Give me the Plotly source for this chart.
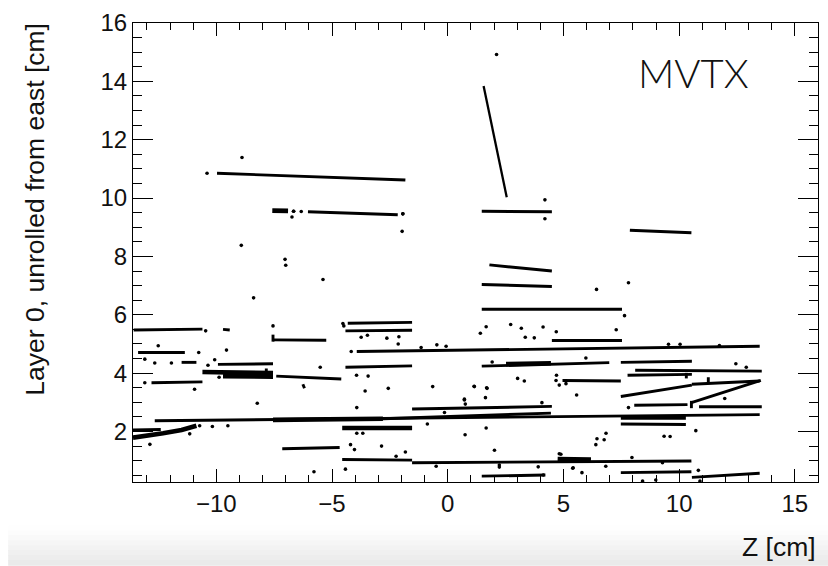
import plotly.graph_objects as go

# ---------------- data (z in cm, y in cm) ----------------
# regular track segments: start z, start y, end z, end y
seg_z0 = [-9.97, -6.04, 1.47, 7.87, 1.80, 1.47, 1.47, 4.50, -3.93, -4.32, -4.42, -4.42,
          -7.41, -6.26, -13.57, -9.71, -7.55, -7.55, -13.38, -11.50, -9.93, -7.84, -12.80,
          -12.66, -1.54, -2.80, 7.48, -13.60, -7.15, -4.56, -1.54, 1.47, 7.48, 10.55,
          1.47, 7.48, 8.10, 7.77, 10.31, 4.96, 7.48, 10.55, 11.26, 10.53, 10.53, 8.06, 10.86]
seg_y0 = [10.85, 9.53, 9.55, 8.90, 7.71, 7.04, 6.19, 5.12, 4.74, 5.71, 5.45, 4.20,
          3.90, 3.62, 5.48, 5.50, 5.14, 5.32, 4.71, 4.37, 4.30, 4.16, 3.67,
          2.37, 2.77, 2.44, 2.26, 2.05, 1.41, 1.04, 0.93, 0.47, 0.59, 0.43,
          4.24, 4.37, 4.10, 3.93, 4.01, 3.75, 3.20, 3.62, 3.86, 2.99, 3.05, 2.90, 2.85]
seg_z1 = [-1.83, -2.16, 4.50, 10.53, 4.50, 4.50, 7.53, 7.53, 13.48, -1.54, -1.54, -1.54,
          -4.60, -6.19, -10.60, -9.42, -5.25, -7.55, -11.36, -10.86, -7.55, -7.84, -10.60,
          13.48, 4.50, 4.46, 10.29, -12.40, -4.67, -1.54, 10.53, 4.22, 10.53, 13.48,
          6.98, 10.55, 13.57, 10.55, 10.31, 7.48, 10.55, 13.48, 11.26, 13.53, 10.53, 10.36, 13.57]
seg_y1 = [10.62, 9.43, 9.53, 8.81, 7.50, 6.97, 6.19, 5.12, 4.92, 5.74, 5.47, 4.25,
          3.80, 3.48, 5.51, 5.48, 5.13, 5.08, 4.71, 4.37, 4.32, 4.01, 3.70,
          2.58, 2.86, 2.63, 2.24, 2.07, 1.45, 1.02, 0.99, 0.51, 0.62, 0.57,
          4.36, 4.41, 4.07, 3.96, 3.82, 3.73, 3.59, 3.73, 3.67, 3.75, 2.80, 2.92, 2.85]

# dense (heavily populated) segments
thick_z0 = [-7.58, -10.60, -9.71, -7.55, 7.48, -4.56, 4.75, 2.52]
thick_y0 = [9.57, 4.04, 3.90, 2.40, 2.48, 2.12, 1.06, 4.31]
thick_z1 = [-6.90, -7.55, -7.55, -2.80, 10.29, -1.54, 6.19, 4.46]
thick_y1 = [9.56, 4.00, 3.88, 2.44, 2.48, 2.12, 1.04, 4.34]

# steep track in the upper region
steep_z = [1.55, 2.55]
steep_y = [13.84, 10.03]

# curved dense band at low z
curve_z = [-13.60, -12.90, -12.30, -11.50, -10.86]
curve_y = [1.79, 1.86, 1.94, 2.05, 2.20]

# isolated hits
dot_z = [-10.40, -8.89, -6.66, -6.33, -1.94, -1.97, -6.73, -8.92, -7.03, -7.00, -5.39, -8.39,
         2.11, 4.20, 4.20, 6.43, 7.81, 7.64, 1.66, 1.41, 2.72, 3.18, 3.35, 3.74, 4.12, 4.69, 7.28,
         -4.17, -1.15, -0.47, -0.07, -2.11, -2.14, -2.63, -3.74, -3.47, -4.53, -4.49, 9.54, 10.04, 11.74,
         -3.94, -3.44, -3.57, -2.57, -0.65, 1.14, -5.51, -10.46, -7.55, -12.51, -10.76, -9.56,
         -12.66, -11.94, -13.09, -10.36, -10.07, -9.88, -13.09, -10.94, 9.35, 10.72, -12.87, -11.15,
         -10.72, -10.17, -9.50, -8.23, -3.93, -3.67, -4.20, -4.03, -2.86, -1.83, -2.23, 4.89, 7.96,
         3.91, 5.42, 5.80, 6.83, -5.78, -4.42, -0.50, 10.83, 10.90, 1.92, 5.97, 4.70, 1.15, 0.72,
         0.76, 1.63, 4.07, 5.57, 7.81, 11.97, 9.61, -3.93, -0.88, 0.72, 0.75, 1.66, 2.02, 6.45,
         6.76, 6.40, 6.84, 2.23, 2.23, 4.13, 4.82, 5.40, 9.28, 8.42, 8.99, 12.45, 12.90, 3.02,
         3.31, 4.68, 4.82, 5.11, 1.70, 1.68, -0.14, -6.66, -1.94]
dot_y = [10.85, 11.39, 9.55, 9.54, 9.46, 8.86, 9.35, 8.38, 7.90, 7.70, 7.21, 6.58,
         14.92, 9.94, 9.29, 6.87, 7.10, 5.97, 5.59, 5.37, 5.67, 5.54, 5.23, 5.21, 5.58, 5.42, 5.49,
         4.74, 4.88, 4.97, 4.92, 5.25, 5.00, 5.20, 5.23, 5.30, 5.70, 5.62, 4.99, 4.99, 4.95,
         3.93, 3.90, 3.39, 3.48, 3.54, 3.55, 4.20, 5.45, 5.62, 4.94, 4.71, 4.79,
         4.35, 4.35, 4.48, 4.27, 4.46, 3.86, 3.67, 3.45, 1.84, 2.03, 1.56, 1.92,
         2.20, 2.17, 2.20, 2.97, 1.94, 1.94, 1.55, 1.38, 1.50, 1.30, 1.15, 1.22, 1.11,
         0.79, 0.76, 0.59, 0.81, 0.62, 0.71, 0.81, 0.67, 0.30, 4.38, 4.52, 3.93, 3.54, 3.08,
         2.94, 3.16, 2.99, 3.25, 2.82, 3.13, 1.83, 2.82, 2.26, 3.11, 1.89, 2.12, 1.36, 1.75,
         1.72, 1.55, 1.94, 0.78, 0.85, 0.51, 1.24, 0.74, 0.93, 0.30, 0.34, 4.32, 4.20, 3.82,
         3.73, 3.75, 3.59, 3.64, 3.48, 3.50, 2.65, 9.55, 9.46]

x_range = [-13.6, 16.0]
y_range = [0.27, 16.0]
x_title = "Z [cm]"
y_title = "Layer 0, unrolled from east [cm]"
label_text = "MVTX"


def polyline(z0, y0, z1, y1):
    xs, ys = [], []
    for a, b, c, d in zip(z0, y0, z1, y1):
        xs += [a, c, None]
        ys += [b, d, None]
    return xs, ys


FONT = "Liberation Sans, Arial, Helvetica, sans-serif"

fig = go.Figure()

sx, sy = polyline(seg_z0, seg_y0, seg_z1, seg_y1)
fig.add_trace(go.Scatter(x=sx, y=sy, mode="lines", line=dict(color="black", width=2.9),
                         hoverinfo="skip", showlegend=False))
tx, ty = polyline(thick_z0, thick_y0, thick_z1, thick_y1)
fig.add_trace(go.Scatter(x=tx, y=ty, mode="lines", line=dict(color="black", width=4.6),
                         hoverinfo="skip", showlegend=False))
fig.add_trace(go.Scatter(x=curve_z, y=curve_y, mode="lines", line=dict(color="black", width=4.6),
                         hoverinfo="skip", showlegend=False))
fig.add_trace(go.Scatter(x=steep_z, y=steep_y, mode="lines", line=dict(color="black", width=2.3),
                         hoverinfo="skip", showlegend=False))
fig.add_trace(go.Scatter(x=dot_z, y=dot_y, mode="markers",
                         marker=dict(color="black", size=3.6, line=dict(width=0)),
                         hoverinfo="skip", showlegend=False))

# light grey shading at the bottom of the image
greys = ["#fefefe", "#fcfcfc", "#f9f9f9", "#f6f6f6", "#f3f3f3", "#f0f0f0", "#ededed", "#eaeaea"]
ph = 465.0
pw = 686.0
y_top_px = 526
step = (566 - y_top_px) / len(greys)
for i, g in enumerate(greys):
    y0p = (482 - (y_top_px + i * step)) / ph
    y1p = (482 - (y_top_px + (i + 1) * step)) / ph
    fig.add_shape(type="rect", xref="paper", yref="paper",
                  x0=(8 - 133) / pw, x1=(830 - 133) / pw, y0=y1p - 0.002, y1=y0p,
                  fillcolor=g, line=dict(width=0), layer="below")

axis_common = dict(showgrid=False, zeroline=False, showline=True, linecolor="black",
                   linewidth=1, mirror="ticks", ticks="inside", tickcolor="black",
                   tickwidth=1, tickfont=dict(family=FONT, size=24, color="#111"))

fig.update_xaxes(range=x_range, tick0=0, dtick=5, ticklen=13,
                 minor=dict(ticks="inside", dtick=1, ticklen=7, tickcolor="black", tickwidth=1),
                 tickformat="d", **axis_common)
fig.update_yaxes(range=y_range, tick0=0, dtick=2, ticklen=20,
                 minor=dict(ticks="inside", dtick=0.5, ticklen=9, tickcolor="black", tickwidth=1),
                 **axis_common)

fig.add_annotation(text=y_title, xref="paper", yref="paper", x=(34 - 133) / pw,
                   y=(482 - 15) / ph, xanchor="center", yanchor="top", textangle=-90,
                   showarrow=False, font=dict(family=FONT, size=26.5, color="#111"))
fig.add_annotation(text=x_title, xref="paper", yref="paper", x=1.0,
                   y=(482 - 548) / ph, xanchor="right", yanchor="middle",
                   showarrow=False, font=dict(family=FONT, size=26.5, color="#111"))
fig.add_annotation(text=label_text, xref="paper", yref="paper", x=(694 - 133) / pw,
                   y=(482 - 68) / ph, xanchor="center", yanchor="middle",
                   showarrow=False, font=dict(family="Lato, Roboto, sans-serif", size=40,
                                              color="#111", weight=300))

fig.update_layout(width=828, height=566, margin=dict(l=133, r=9, t=17, b=84),
                  paper_bgcolor="white", plot_bgcolor="white")

fig.write_html("out.html")
